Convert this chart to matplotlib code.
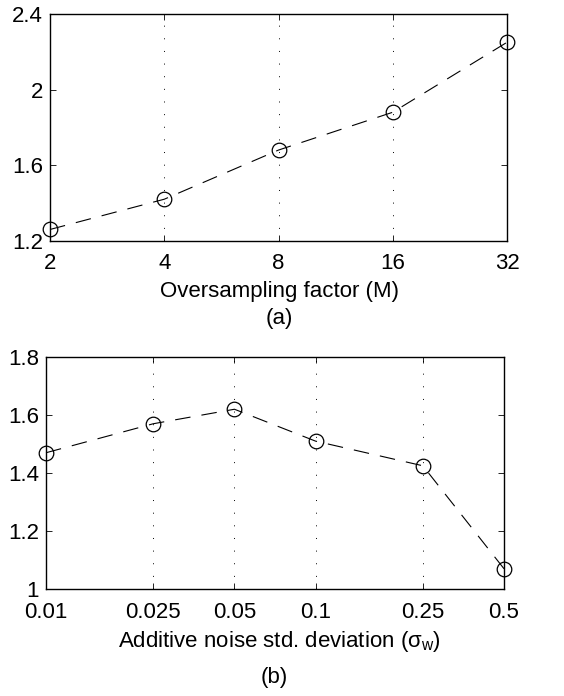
import matplotlib

matplotlib.use("Agg")
import matplotlib.pyplot as plt
from matplotlib.ticker import FixedLocator, FixedFormatter, NullLocator

# (a) oversampling factor
m_vals = [2, 4, 8, 16, 32]
m_y = [1.26, 1.42, 1.68, 1.88, 2.25]
m_yticks = [1.2, 1.6, 2.0, 2.4]
m_yticklabels = ["1.2", "1.6", "2", "2.4"]

# (b) additive noise std deviation
s_vals = [0.01, 0.025, 0.05, 0.1, 0.25, 0.5]
s_y = [1.47, 1.57, 1.62, 1.51, 1.425, 1.07]
s_xticklabels = ["0.01", "0.025", "0.05", "0.1", "0.25", "0.5"]
s_yticks = [1.0, 1.2, 1.4, 1.6, 1.8]
s_yticklabels = ["1", "1.2", "1.4", "1.6", "1.8"]

FS = 16

plt.rcParams.update(
    {
        "font.family": ["Liberation Sans", "DejaVu Sans"],
        "font.size": FS,
        "mathtext.fontset": "custom",
        "mathtext.rm": "Liberation Sans",
        "mathtext.it": "Liberation Sans",
        "mathtext.bf": "Liberation Sans:bold",
        "axes.linewidth": 1.0,
    }
)

fig = plt.figure(figsize=(5.64, 6.96), dpi=100)
ax1 = fig.add_axes([0.0887, 0.654, 0.8103, 0.326])
ax2 = fig.add_axes([0.0816, 0.1537, 0.812, 0.3333])


def style(ax, xticks, xlabels, yticks, ylabels, xlim, ylim):
    ax.set_xscale("log")
    ax.set_xlim(*xlim)
    ax.set_ylim(*ylim)
    ax.xaxis.set_major_locator(FixedLocator(xticks))
    ax.xaxis.set_major_formatter(FixedFormatter(xlabels))
    ax.xaxis.set_minor_locator(NullLocator())
    ax.set_yticks(yticks)
    ax.set_yticklabels(ylabels)
    ax.tick_params(direction="in", length=4, width=0.6, top=True, right=True,
                   labelsize=FS)
    ax.tick_params(axis="x", pad=9)
    ax.tick_params(axis="y", pad=5)
    ax.grid(True, axis="x", linestyle=(0, (1, 12)), color="black", linewidth=0.7)


line_kw = dict(linestyle=(0, (14, 10)), color="black", linewidth=0.8,
               marker="o", markersize=10.5, markerfacecolor="none",
               markeredgecolor="black", markeredgewidth=0.9, clip_on=False)

ax1.plot(m_vals, m_y, **line_kw)
style(ax1, m_vals, [str(v) for v in m_vals], m_yticks, m_yticklabels,
      (2, 32), (1.2, 2.4))

ax2.plot(s_vals, s_y, **line_kw)
style(ax2, s_vals, s_xticklabels, s_yticks, s_yticklabels,
      (0.01, 0.5), (1.0, 1.8))

fig.text(0.495, 1 - 292 / 696, "Oversampling factor (M)", ha="center", va="center", fontsize=FS)
fig.text(0.495, 1 - 319 / 696, "(a)", ha="center", va="center", fontsize=FS)
fig.text(0.495, 1 - 641 / 696, r"Additive noise std. deviation ($\sigma_{\rm w}$)",
         ha="center", va="center", fontsize=FS)
fig.text(0.487, 1 - 678 / 696, "(b)", ha="center", va="center", fontsize=FS)

fig.savefig("out.png", dpi=100)
plt.close(fig)
